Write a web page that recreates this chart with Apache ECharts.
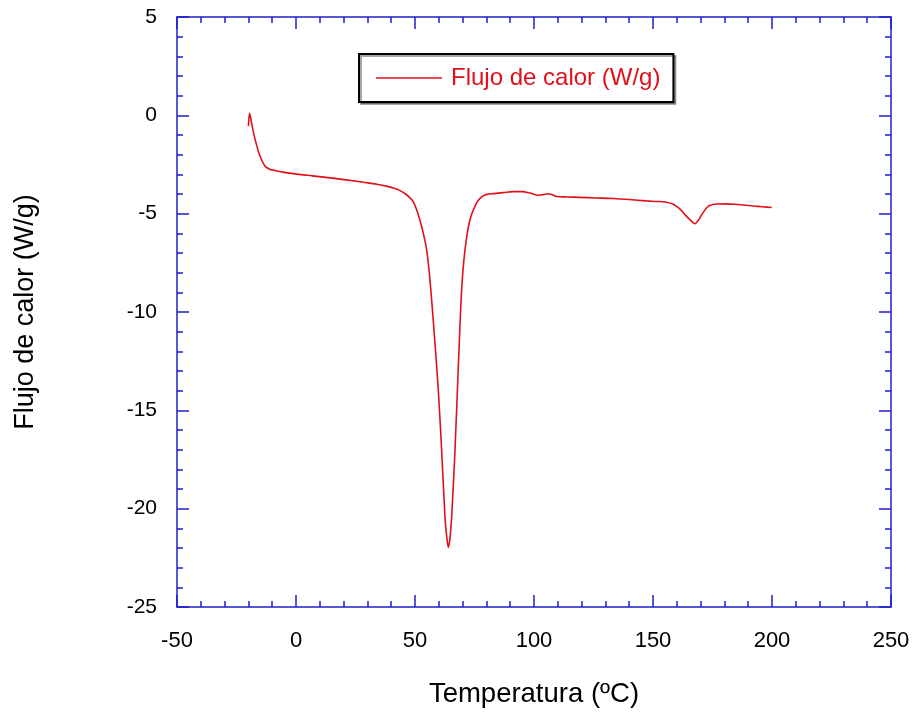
<!DOCTYPE html>
<html>
<head>
<meta charset="utf-8">
<script src="https://cdn.jsdelivr.net/npm/echarts@6/dist/echarts.min.js"></script>
<style>html,body{margin:0;padding:0;background:#fff}#c{width:916px;height:715px}</style>
</head>
<body>
<div id="c"></div>
<script>
const temperature = [-20.0, -19.5, -18.5, -17.2, -15.1, -13.0, -11.0, -9.5, -5.0, 0.3, 7.0, 14.3, 21.0, 28.3, 34.0, 38.1, 41.0, 43.7, 46.0, 47.9, 49.3, 50.7, 52.0, 53.5, 54.9, 56.0, 57.0, 58.4, 59.8, 61.2, 62.6, 63.4, 64.0, 64.7, 65.4, 66.8, 68.2, 69.6, 71.0, 73.1, 75.9, 78.0, 80.1, 82.9, 87.0, 91.3, 95.0, 98.3, 101.8, 104.0, 106.0, 108.0, 109.5, 114.0, 119.3, 126.0, 133.3, 140.0, 147.3, 152.0, 155.7, 158.0, 159.9, 161.8, 163.4, 165.5, 167.6, 169.0, 170.5, 173.2, 176.8, 180.0, 183.8, 188.0, 192.2, 196.0, 199.9];
const heatFlow = [-0.55, 0.1, -0.5, -1.22, -2.08, -2.59, -2.74, -2.79, -2.9, -2.99, -3.08, -3.18, -3.28, -3.40, -3.5, -3.6, -3.7, -3.83, -4.0, -4.2, -4.4, -4.8, -5.3, -6.0, -6.84, -8.0, -9.39, -11.6, -13.98, -17.04, -20.44, -21.5, -21.97, -21.5, -20.44, -17.04, -12.79, -8.88, -6.84, -5.31, -4.45, -4.15, -4.02, -3.98, -3.93, -3.88, -3.88, -3.95, -4.06, -4.03, -3.99, -4.05, -4.13, -4.15, -4.17, -4.20, -4.23, -4.28, -4.35, -4.38, -4.42, -4.5, -4.63, -4.82, -5.05, -5.3, -5.51, -5.35, -5.05, -4.63, -4.51, -4.5, -4.52, -4.56, -4.61, -4.65, -4.69];
const seriesName = 'Flujo de calor (W/g)';
const xTitle = 'Temperatura (ºC)';
const yTitle = 'Flujo de calor (W/g)';

const data = temperature.map((t, i) => [t, heatFlow[i]]);
const axisBlue = '#1f1fd0';
const red = '#e0101a';
const font = 'Liberation Sans, Arial, sans-serif';

const baseX = {
  type: 'value', min: -50, max: 250, interval: 50,
  axisLine: { show: true, onZero: false, lineStyle: { color: axisBlue, width: 1.5 } },
  axisTick: { show: true, inside: true, length: 12, lineStyle: { color: axisBlue, width: 1.5 } },
  minorTick: { show: true, splitNumber: 5, length: 6, lineStyle: { color: axisBlue, width: 1.5 } },
  splitLine: { show: false }
};
const baseY = {
  type: 'value', min: -25, max: 5, interval: 5,
  axisLine: { show: true, onZero: false, lineStyle: { color: axisBlue, width: 1.5 } },
  axisTick: { show: true, inside: true, length: 12, lineStyle: { color: axisBlue, width: 1.5 } },
  minorTick: { show: true, splitNumber: 5, length: 6, lineStyle: { color: axisBlue, width: 1.5 } },
  splitLine: { show: false }
};

const chart = echarts.init(document.getElementById('c'), null, { renderer: 'canvas' });
chart.setOption({
  animation: false,
  backgroundColor: '#fff',
  textStyle: { fontFamily: font },
  grid: { left: 177, right: 25, top: 17, bottom: 108, containLabel: false },
  legend: {
    left: 359, top: 54,
    padding: [12, 13, 12, 17],
    itemWidth: 66, itemHeight: 14, itemGap: 10,
    borderColor: '#000', borderWidth: 2,
    backgroundColor: '#fff',
    shadowColor: 'rgba(0,0,0,0.35)', shadowOffsetX: 2, shadowOffsetY: 2, shadowBlur: 0,
    textStyle: { fontSize: 24, color: red, fontFamily: font, padding: [0, 0, 0, 4] },
    data: [{ name: seriesName, icon: 'path://M0,0H66V1.5H0Z' }]
  },
  xAxis: [
    Object.assign({}, baseX, {
      position: 'bottom',
      axisLabel: { show: true, fontSize: 22, color: '#000', margin: 23, fontFamily: font },
      name: xTitle, nameLocation: 'middle', nameGap: 73,
      nameTextStyle: { fontSize: 27.5, color: '#000', fontFamily: font }
    }),
    Object.assign({}, baseX, { position: 'top', axisLabel: { show: false } })
  ],
  yAxis: [
    Object.assign({}, baseY, {
      position: 'left',
      axisLabel: { show: true, fontSize: 21, color: '#000', margin: 20, fontFamily: font },
      name: yTitle, nameLocation: 'middle', nameGap: 138, nameRotate: 90,
      nameTextStyle: { fontSize: 27, color: '#000', fontFamily: font }
    }),
    Object.assign({}, baseY, { position: 'right', axisLabel: { show: false } })
  ],
  series: [{
    name: seriesName, type: 'line', data: data,
    xAxisIndex: 0, yAxisIndex: 0,
    showSymbol: false, symbol: 'none', smooth: 0.3,
    lineStyle: { color: red, width: 1.6 },
    itemStyle: { color: red }
  }]
});
</script>
</body>
</html>
